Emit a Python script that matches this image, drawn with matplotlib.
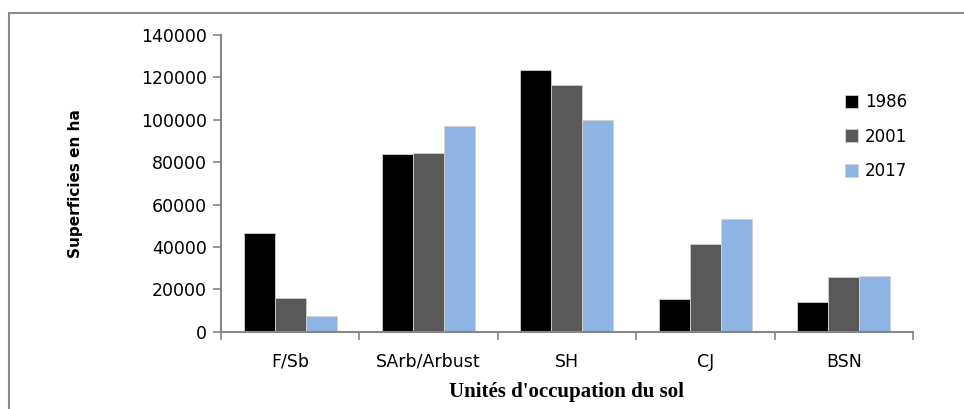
import matplotlib.pyplot as plt
import numpy as np
from matplotlib.patches import Rectangle

categories = ['F/Sb', 'SArb/Arbust', 'SH', 'CJ', 'BSN']
years = ['1986', '2001', '2017']
v1986 = [46700, 83900, 123400, 15300, 14100]
v2001 = [15700, 84300, 116200, 41500, 25900]
v2017 = [7400, 97100, 99700, 53100, 26400]
colors = ['#000000', '#595959', '#8EB4E3']

fig = plt.figure(figsize=(9.64, 4.09), dpi=100)
ax = fig.add_axes([0.2293, 0.189, 0.7177, 0.7256])

# cadre gris autour du graphique (coupé à droite et en bas)
fig.patches.append(Rectangle((9 / 964, -0.05), 1.1, 1 - 13 / 409 + 0.05, transform=fig.transFigure,
                             fill=False, edgecolor='#8c8c8c', linewidth=1.5))

x = np.arange(len(categories))
w = 0.224
for i, (vals, yr) in enumerate(zip([v1986, v2001, v2017], years)):
    ax.bar(x + (i - 1) * w, vals, width=w, color=colors[i], edgecolor='#d0d0d0',
           linewidth=0.6, label=yr)

ax.set_xlim(-0.5, len(categories) - 0.5)
ax.set_ylim(0, 140000)
ax.set_yticks(range(0, 140001, 20000))
ax.set_xticks(x)
ax.set_xticklabels(categories)
ax.set_xticks(np.arange(-0.5, len(categories), 1), minor=True)
ax.tick_params(axis='x', which='major', length=0, pad=15, labelsize=12.5)
ax.tick_params(axis='x', which='minor', length=6, width=1.2, color='#868686', direction='out')
ax.tick_params(axis='y', length=6, width=1.2, color='#868686', labelsize=12.5, pad=4)

for s in ['top', 'right']:
    ax.spines[s].set_visible(False)
for s in ['left', 'bottom']:
    ax.spines[s].set_color('#868686')
    ax.spines[s].set_linewidth(1.5)

ax.set_ylabel('Superficies en ha', fontsize=11, fontweight='bold', labelpad=42)
ax.set_xlabel("Unités d'occupation du sol", fontsize=15, fontweight='bold',
              family='Liberation Serif', labelpad=8)

ax.legend(loc='upper left', bbox_to_anchor=(0.88, 0.855), frameon=False, fontsize=12,
          handlelength=0.8, handleheight=0.8, handletextpad=0.4, labelspacing=1.0)

fig.savefig('out.png', dpi=100)
